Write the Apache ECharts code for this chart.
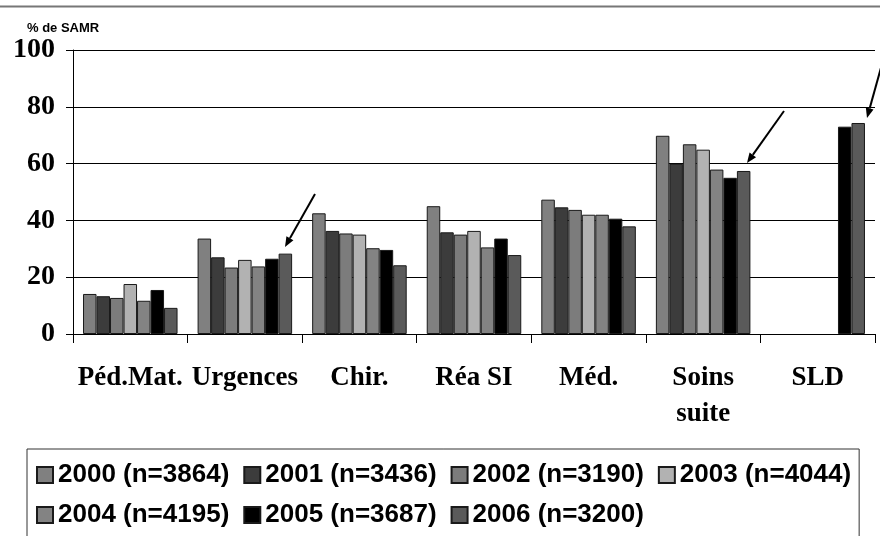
<!DOCTYPE html>
<html>
<head>
<meta charset="utf-8">
<script src="https://cdn.jsdelivr.net/npm/echarts@6/dist/echarts.min.js"></script>
<style>
  html, body { margin: 0; padding: 0; background: #fff; }
  #main { width: 880px; height: 536px; }
</style>
</head>
<body>
<div id="main"></div>
<script>
// categories and values (% de SAMR)
var categories = ["Péd.Mat.", "Urgences", "Chir.", "Réa SI", "Méd.", "Soins\nsuite", "SLD"];
var yearNames = ["2000 (n=3864)", "2001 (n=3436)", "2002 (n=3190)", "2003 (n=4044)",
                 "2004 (n=4195)", "2005 (n=3687)", "2006 (n=3200)"];
var yearColors = ["#808080", "#3c3c3c", "#7c7c7c", "#b2b2b2", "#838383", "#000000", "#5a5a5a"];
var v2000 = [14.1, 33.6, 42.5, 45.0, 47.3, 69.8, null];
var v2001 = [13.3, 27.0, 36.3, 35.8, 44.6, 60.0, null];
var v2002 = [12.7, 23.4, 35.4, 35.0, 43.7, 66.8, null];
var v2003 = [17.6, 26.1, 35.0, 36.3, 42.0, 64.9, null];
var v2004 = [11.7, 23.8, 30.2, 30.5, 42.0, 57.9, null];
var v2005 = [15.5, 26.5, 29.6, 33.6, 40.6, 55.0, 73.0];
var v2006 = [9.2, 28.3, 24.2, 27.8, 37.9, 57.4, 74.3];
var yearValues = [v2000, v2001, v2002, v2003, v2004, v2005, v2006];

var serif = "'Liberation Serif', 'Times New Roman', serif";
var sans = "'Liberation Sans', Arial, sans-serif";

// arrow annotation: line + filled head
function arrow(x1, y1, x2, y2) {
  var a = Math.atan2(y2 - y1, x2 - x1), L = 10, W = 4;
  var bx = x2 - L * Math.cos(a), by = y2 - L * Math.sin(a);
  return [
    { type: "line", shape: { x1: x1, y1: y1, x2: bx, y2: by },
      style: { stroke: "#000", lineWidth: 2 } },
    { type: "polygon", shape: { points: [[x2, y2],
        [bx + W * Math.sin(a), by - W * Math.cos(a)],
        [bx - W * Math.sin(a), by + W * Math.cos(a)]] },
      style: { fill: "#000" } }
  ];
}

var series = [];
for (var i = 0; i < yearNames.length; i++) {
  series.push({
    name: yearNames[i],
    type: "bar",
    data: yearValues[i],
    barGap: "0%",
    barCategoryGap: "17.5%",
    itemStyle: { color: yearColors[i], borderColor: "#1a1a1a", borderWidth: 1 }
  });
}

var chart = echarts.init(document.getElementById("main"), null, { renderer: "canvas" });
chart.setOption({
  animation: false,
  title: {
    text: "% de SAMR", left: 22, top: 17,
    textStyle: { fontFamily: sans, fontWeight: "bold", fontSize: 13, color: "#000" }
  },
  grid: { left: 73, right: 5, top: 50, bottom: 202 },
  legend: {
    data: yearNames,
    icon: "rect",
    left: 27, top: 449, width: 830,
    padding: [13, 8, 60, 9],
    itemWidth: 16, itemHeight: 16, itemGap: 14,
    borderColor: "#333", borderWidth: 1,
    textStyle: { fontFamily: sans, fontWeight: "bold", fontSize: 26, color: "#000", lineHeight: 23 }
  },
  xAxis: {
    type: "category",
    data: categories,
    axisLine: { lineStyle: { color: "#000", width: 1 } },
    axisTick: { show: true, length: 9, lineStyle: { color: "#000" } },
    axisLabel: { fontFamily: serif, fontWeight: "bold", fontSize: 27, color: "#000",
                 lineHeight: 36, margin: 26, interval: 0 }
  },
  yAxis: {
    type: "value", min: 0, max: 100, interval: 20,
    axisLine: { show: true, lineStyle: { color: "#000", width: 1 } },
    axisTick: { show: true, length: 7, lineStyle: { color: "#000" } },
    axisLabel: { fontFamily: serif, fontWeight: "bold", fontSize: 28, color: "#000", margin: 18 },
    splitLine: { lineStyle: { color: "#000", width: 1 } }
  },
  graphic: [
    { type: "line", shape: { x1: 0, y1: 6.5, x2: 880, y2: 6.5 },
      style: { stroke: "#777", lineWidth: 2 } }
  ].concat(arrow(315, 194, 285, 247), arrow(784, 111, 747, 163), arrow(882, 64, 867, 118)),
  series: series
});
</script>
</body>
</html>
